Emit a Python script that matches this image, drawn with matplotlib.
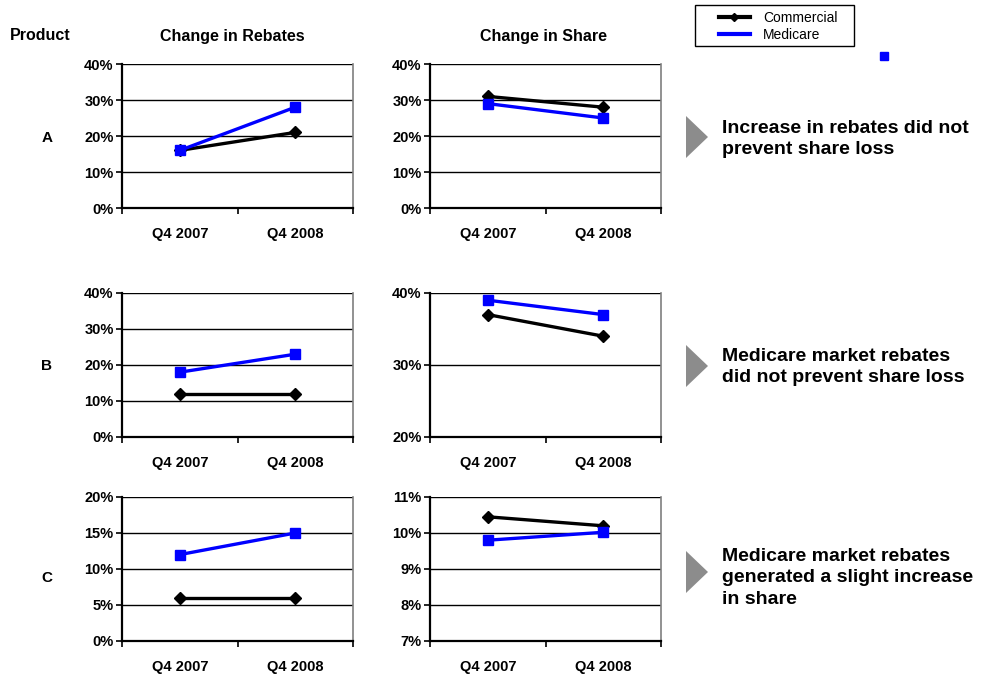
import matplotlib
matplotlib.use("Agg")
import matplotlib.pyplot as plt
from matplotlib.lines import Line2D
from matplotlib.patches import Polygon, Rectangle
from matplotlib.ticker import FuncFormatter, FixedLocator

plt.rcParams['font.family'] = ['Liberation Sans', 'DejaVu Sans']

quarters = ["Q4 2007", "Q4 2008"]
products = ["A", "B", "C"]

rebate_commercial = [[16, 21], [12, 12], [6, 6]]
rebate_medicare = [[16, 28], [18, 23], [12, 15]]
share_commercial = [[31, 28], [37, 34], [10.45, 10.2]]
share_medicare = [[29, 25], [39, 37], [9.8, 10.02]]

rebate_ticks = [[0, 10, 20, 30, 40], [0, 10, 20, 30, 40], [0, 5, 10, 15, 20]]
share_ticks = [[0, 10, 20, 30, 40], [20, 30, 40], [7, 8, 9, 10, 11]]

messages = [
    "Increase in rebates did not\nprevent share loss",
    "Medicare market rebates\ndid not prevent share loss",
    "Medicare market rebates\ngenerated a slight increase\nin share",
]
series_names = ["Commercial", "Medicare"]

W, H = 988, 675
fig = plt.figure(figsize=(W / 100, H / 100), dpi=100)

def fx(px):
    return px / W

def fy(py):
    return 1 - py / H

rows = [(64, 208), (293, 437), (497, 641)]
cols = [122, 430]
aw = 231

def style_axes(ax, ticks):
    ax.set_xlim(-0.5, 1.5)
    ax.set_ylim(ticks[0], ticks[-1])
    ax.yaxis.set_major_locator(FixedLocator(ticks))
    ax.yaxis.set_major_formatter(FuncFormatter(lambda v, p: f"{v:.0f}%"))
    ax.set_xticks([0, 1])
    ax.set_xticklabels(quarters)
    ax.xaxis.set_minor_locator(FixedLocator([-0.5, 0.5, 1.5]))
    ax.tick_params(axis='x', which='major', length=0, pad=14, labelsize=10.5)
    ax.tick_params(axis='x', which='minor', length=4, width=1.2, direction='out')
    ax.tick_params(axis='y', length=4, width=1.2, direction='out', labelsize=10.5, pad=2)
    for lab in ax.get_xticklabels() + ax.get_yticklabels():
        lab.set_fontweight('bold')
    ax.grid(axis='y', color='black', linewidth=1.0)
    ax.set_axisbelow(True)
    ax.spines['left'].set_linewidth(1.6)
    ax.spines['bottom'].set_linewidth(1.6)
    ax.spines['top'].set_visible(False)
    ax.spines['right'].set_color('#7f7f7f')
    ax.spines['right'].set_linewidth(1.2)

def draw(ax, com, med):
    x = [0, 1]
    ax.plot(x, com, color='black', lw=2.4, marker='D', ms=6.5, clip_on=False, zorder=3)
    ax.plot(x, med, color='#0000ff', lw=2.4, marker='s', ms=7.5, clip_on=False, zorder=4)

label_y = [138, 366, 578]
for i, (top, bot) in enumerate(rows):
    for j, left in enumerate(cols):
        ax = fig.add_axes([fx(left), fy(bot), fx(aw), (bot - top) / H])
        if j == 0:
            style_axes(ax, rebate_ticks[i])
            draw(ax, rebate_commercial[i], rebate_medicare[i])
        else:
            style_axes(ax, share_ticks[i])
            draw(ax, share_commercial[i], share_medicare[i])
    fig.text(fx(47), fy(label_y[i]), products[i], ha='center', va='center',
             fontsize=11, fontweight='bold')

# headers
fig.text(fx(40), fy(36), "Product", ha='center', va='center', fontsize=11.5, fontweight='bold')
fig.text(fx(232), fy(36), "Change in Rebates", ha='center', va='center', fontsize=11.5, fontweight='bold')
fig.text(fx(543), fy(36), "Change in Share", ha='center', va='center', fontsize=11.5, fontweight='bold')

# messages with triangles
tri_centers = [137, 366, 572]
msg_centers = [139, 367, 578]
for tc, yc, msg in zip(tri_centers, msg_centers, messages):
    tri = Polygon([[fx(686), fy(tc - 21)], [fx(708), fy(tc)], [fx(686), fy(tc + 21)]],
                  closed=True, transform=fig.transFigure, facecolor='#8c8c8c', edgecolor='none')
    fig.add_artist(tri)
    fig.text(fx(722), fy(yc), msg, ha='left', va='center', fontsize=14,
             fontweight='bold', linespacing=1.38)

# legend
handles = [
    Line2D([], [], color='black', lw=3, marker='D', ms=4),
    Line2D([], [], color='#0000ff', lw=3),
]
leg = fig.legend(handles, series_names, loc='upper left',
                 bbox_to_anchor=(fx(719), fy(11)), fontsize=10, frameon=False,
                 borderpad=0, handlelength=2.2, labelspacing=0.2,
                 handletextpad=0.95, borderaxespad=0)
fig.add_artist(Rectangle((fx(695), fy(46)), fx(854 - 695), (46 - 5) / H,
                         transform=fig.transFigure, facecolor='none',
                         edgecolor='black', linewidth=1.0))
fig.add_artist(Line2D([fx(884)], [fy(56)], marker='s', color='#0000ff', ms=6,
                      linestyle='none', transform=fig.transFigure))

fig.savefig("out.png", dpi=100)
